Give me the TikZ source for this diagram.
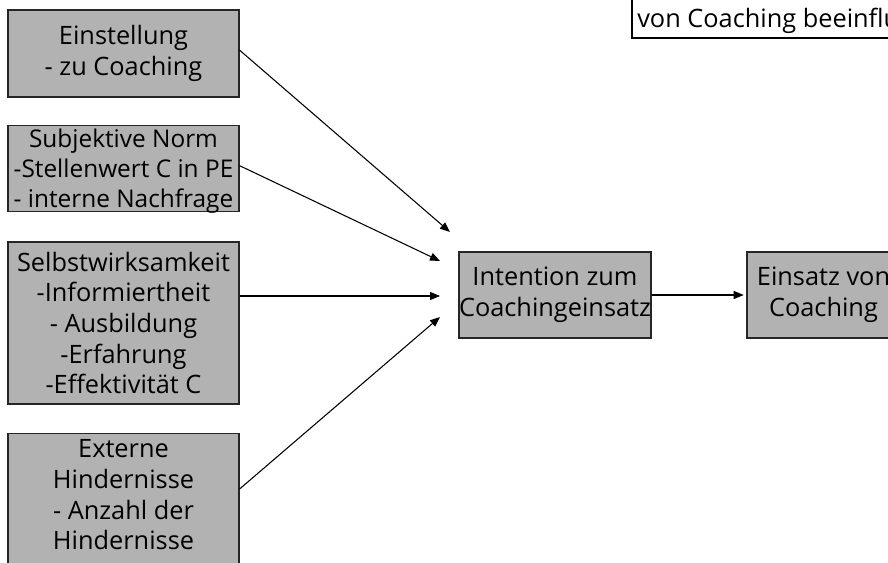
\documentclass[tikz,border=0pt]{standalone}
\usepackage{fontspec}
\setmainfont{Open Sans}
\usetikzlibrary{arrows.meta}

\begin{document}
\begin{tikzpicture}[x=0.75pt,y=-0.75pt]
		% Define styles for the boxes and the arrows
		\tikzset{factor/.style={draw=black!85, line width=0.9pt, fill=black!30, align=center, inner sep=0pt, font=\fontsize{19}{23}\selectfont}}
		\tikzset{->-/.style={-{Triangle[length=7.5pt,width=6pt]}, line width=0.8pt}}
		\tikzset{notebox/.style={draw=black, line width=1.5pt, fill=white}}
		
		% Fix the page and cut off what lies outside it
		\useasboundingbox (0,0) rectangle (888,563);
		\clip (0,0) rectangle (888,563);
		
		% Draw the note at the top right
		\draw[notebox] (632,-40) rectangle (910,38);
		\node[anchor=base west, inner sep=0pt, font=\fontsize{19}{23}\selectfont] (note) at (637,28) {von Coaching beeinflu};
		
		% Draw the four factors on the left
		\node[factor, minimum width=173.25pt, minimum height=65.25pt] (einst) at (123.5,53.5) {Einstellung\\- zu Coaching};
		\node[factor, minimum width=173.25pt, anchor=north, text height=61.5pt, text depth=3pt, font=\fontsize{18.3}{22.5}\selectfont] (norm) at (123.5,125) {Subjektive Norm\\-Stellenwert C in PE\\- interne Nachfrage};
		\node[factor, minimum width=173.25pt, minimum height=121.5pt] (selbst) at (123.5,323) {Selbstwirksamkeit\\-Informiertheit\\- Ausbildung\\-Erfahrung\\-Effektivität C};
		\node[factor, minimum width=173.25pt, anchor=north, inner ysep=4.5pt, text depth=20pt] (extern) at (123.5,433) {Externe\\Hindernisse\\- Anzahl der\\Hindernisse};
		
		% Draw the intention and the use of coaching
		\node[factor, minimum width=144pt, minimum height=64.5pt] (intention) at (555,295) {Intention zum\\Coachingeinsatz};
		\node[factor, minimum width=114.75pt, minimum height=64.5pt] (einsatz) at (823.5,295) {Einsatz von\\Coaching};
		
		% Ends of the arrows in front of the intention
		\coordinate (in1) at (450,232);
		\coordinate (in2) at (440,261);
		\coordinate (in3) at (440,296);
		\coordinate (in4) at (440,317);
		
		% Draw the arrows
		\draw[->-] ([yshift=2.5pt]einst.east) -- (in1);
		\draw[->-] ([yshift=2.2pt]norm.east) -- (in2);
		\draw[->-] (selbst.east |- in3) -- (in3);
		\draw[->-] ([yshift=-42pt]extern.north east) -- (in4);
		\draw[->-, shorten >=2pt] (intention) -- (einsatz);
	\end{tikzpicture}
\end{document}
